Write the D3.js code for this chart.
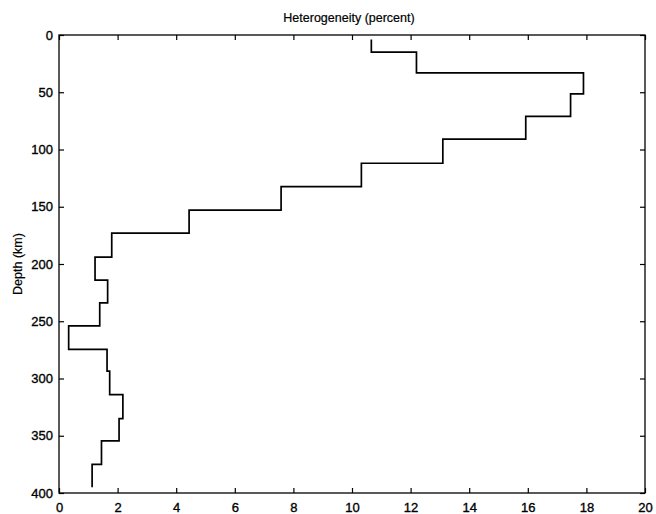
<!DOCTYPE html>
<html>
<head>
<meta charset="utf-8">
<script src="https://cdn.jsdelivr.net/npm/d3@7"></script>
<style>
  html, body { margin: 0; padding: 0; background: #fff; }
  svg { display: block; }
  text { font-family: "Liberation Sans", Arial, Helvetica, sans-serif; fill: #000; }
</style>
</head>
<body>
<svg id="chart" width="656" height="514"></svg>
<script>
// Layer boundaries (km) and heterogeneity in each layer (percent)
const layerDepths = [4, 15, 33, 51.5, 71, 91, 112, 132.5, 153, 173, 194, 214, 234, 254, 274.5, 293.5, 314, 335, 354.5, 375, 395];
const heterogeneity = [10.66, 12.2, 17.9, 17.46, 15.93, 13.1, 10.32, 7.58, 4.44, 1.80, 1.23, 1.66, 1.39, 0.33, 1.64, 1.73, 2.18, 2.05, 1.45, 1.13];
const xTicks = [0, 2, 4, 6, 8, 10, 12, 14, 16, 18, 20];
const yTicks = [0, 50, 100, 150, 200, 250, 300, 350, 400];

const svg = d3.select("#chart");
const plot = { left: 59, right: 645, top: 35, bottom: 493 };

const x = d3.scaleLinear().domain([0, 20]).range([plot.left, plot.right]);
const y = d3.scaleLinear().domain([0, 400]).range([plot.top, plot.bottom]);

// Frame
svg.append("rect")
  .attr("x", plot.left).attr("y", plot.top)
  .attr("width", plot.right - plot.left).attr("height", plot.bottom - plot.top)
  .attr("fill", "none").attr("stroke", "#000").attr("stroke-width", 1.3);

const tickLen = 5;

// Bottom axis with labels
const gBottom = svg.append("g").attr("transform", `translate(0,${plot.bottom})`)
  .call(d3.axisBottom(x).tickValues(xTicks).tickSizeInner(-tickLen).tickSizeOuter(0).tickPadding(10).tickFormat(d3.format("d")));
// Top axis: ticks only
const gTop = svg.append("g").attr("transform", `translate(0,${plot.top})`)
  .call(d3.axisTop(x).tickValues(xTicks).tickSizeInner(-tickLen).tickSizeOuter(0).tickFormat(""));
// Left axis with labels
const gLeft = svg.append("g").attr("transform", `translate(${plot.left},0)`)
  .call(d3.axisLeft(y).tickValues(yTicks).tickSizeInner(-tickLen).tickSizeOuter(0).tickPadding(6).tickFormat(d3.format("d")));
// Right axis: ticks only
const gRight = svg.append("g").attr("transform", `translate(${plot.right},0)`)
  .call(d3.axisRight(y).tickValues(yTicks).tickSizeInner(-tickLen).tickSizeOuter(0).tickFormat(""));

[gBottom, gTop, gLeft, gRight].forEach(g => {
  g.select(".domain").remove();
  g.selectAll(".tick line").attr("stroke", "#000").attr("stroke-width", 1.2);
  g.selectAll(".tick text").attr("font-size", 13).attr("fill", "#000")
    .attr("stroke", "#000").attr("stroke-width", 0.35)
    .attr("font-family", "'Liberation Sans', Arial, Helvetica, sans-serif");
});
gBottom.selectAll(".tick text").attr("dy", "0.71em");

// Stepped profile: vertical run through each layer, horizontal jump at each boundary
const pts = [];
heterogeneity.forEach((v, i) => {
  pts.push([v, layerDepths[i]]);
  pts.push([v, layerDepths[i + 1]]);
});
const line = d3.line().x(d => x(d[0])).y(d => y(d[1]));
svg.append("path")
  .attr("d", line(pts))
  .attr("fill", "none")
  .attr("stroke", "#000")
  .attr("stroke-width", 1.7)
  .attr("stroke-linejoin", "miter");

// Title
svg.append("text")
  .attr("x", (plot.left + plot.right) / 2 - 3).attr("y", 22)
  .attr("text-anchor", "middle")
  .attr("font-size", 12.5)
  .attr("stroke", "#000").attr("stroke-width", 0.2)
  .text("Heterogeneity (percent)");

// Y axis label
svg.append("text")
  .attr("transform", `translate(22,${(plot.top + plot.bottom) / 2}) rotate(-90)`)
  .attr("text-anchor", "middle")
  .attr("font-size", 12.5)
  .attr("stroke", "#000").attr("stroke-width", 0.2)
  .text("Depth (km)");
</script>
</body>
</html>
